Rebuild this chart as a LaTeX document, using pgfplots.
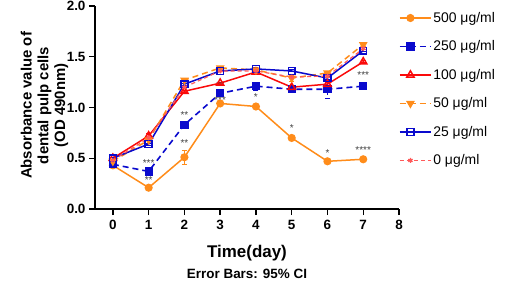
\documentclass[border=0pt]{standalone}
\usepackage{pgfplots}
\pgfplotsset{compat=1.18}
\usepackage{fontspec}
\setmainfont{Liberation Sans}
\definecolor{cor}{RGB}{255,140,26}
\definecolor{cbl}{RGB}{10,10,205}
\definecolor{crd}{RGB}{250,10,10}
\definecolor{cpk}{RGB}{255,90,90}
\begin{document}
\begin{tikzpicture}
\path[use as bounding box] (-95bp,-72bp) rectangle (410bp,209bp);
\begin{axis}[
  at={(0,0)}, anchor=south west,
  scale only axis, width=304bp, height=203bp,
  xmin=-0.5, xmax=8, ymin=0, ymax=2.0,
  axis x line*=bottom, axis y line*=left,
  axis line style={line width=1.6bp, -},
  xtick={0,...,8}, ytick={0,0.5,1,1.5,2},
  yticklabel style={/pgf/number format/fixed,/pgf/number format/fixed zerofill,/pgf/number format/precision=1},
  /pgf/number format/assume math mode=true,
  tick style={line width=1.4bp, black},
  tick align=outside, major tick length=6bp,
  ticklabel style={font=\fontsize{13.5}{15}\selectfont\bfseries},
  xticklabel style={yshift=-2bp},
  xlabel={Time(day)},
  xlabel style={font=\fontsize{17}{19}\selectfont\bfseries, at={(axis description cs:0.5,-0.217)}, anchor=center},
  ylabel={Absorbance value of\\dental pulp cells\\(OD 490nm)},
  ylabel style={font=\fontsize{15}{16.8}\selectfont\bfseries, align=center, at={(axis description cs:-0.166,0.51)}, anchor=center, rotate=0},
  legend style={draw=none, fill=none, at={(axis description cs:0.99,0.99)}, anchor=north west, font=\fontsize{14}{16}\selectfont, row sep=12.9bp, legend cell align=left},
  legend image code/.code={\draw[#1] (0cm,0cm) -- (0.74cm,0cm); \draw[#1, solid] plot coordinates {(0.37cm,0cm)}; \path (0cm,0cm) -- (1.08cm,0cm);},
  clip=false,
  error bars/y dir=both, error bars/y explicit,
  error bars/error bar style={line width=1bp},
  error bars/error mark options={rotate=90, mark size=2.5bp, line width=1bp},
]
% 500
\addplot[color=cor, line width=1.5bp, mark=*, mark size=3.3bp, mark options={solid}]
 coordinates {(0,0.43) +- (0,0.01) (1,0.21) +- (0,0.01) (2,0.51) +- (0,0.07) (3,1.04) +- (0,0.01) (4,1.01) +- (0,0.01) (5,0.70) +- (0,0.01) (6,0.47) +- (0,0.01) (7,0.49) +- (0,0.01)};
\addlegendentry{500 μg/ml}
% 250
\addplot[color=cbl, line width=1.6bp, dash pattern=on 6bp off 4bp, mark=square*, mark size=3.3bp, mark options={solid}]
 coordinates {(0,0.44) +- (0,0.01) (1,0.37) +- (0,0.01) (2,0.83) +- (0,0.03) (3,1.14) +- (0,0.02) (4,1.21) +- (0,0.04) (5,1.18) +- (0,0.01) (6,1.18) +- (0,0.09) (7,1.21) +- (0,0.01)};
\addlegendentry{250 μg/ml}
% 100
\addplot[color=crd, line width=1.5bp, mark=triangle, mark size=4.2bp, mark options={solid, line width=1.5bp}]
 coordinates {(0,0.50) +- (0,0.01) (1,0.72) +- (0,0.02) (2,1.16) +- (0,0.01) (3,1.24) +- (0,0.01) (4,1.35) +- (0,0.01) (5,1.20) +- (0,0.01) (6,1.23) +- (0,0.02) (7,1.45) +- (0,0.01)};
\addlegendentry{100 μg/ml}
% 50
\addplot[color=cor, line width=1.5bp, dash pattern=on 6bp off 4bp, mark=triangle*, mark size=3.6bp, mark options={solid, rotate=180}]
 coordinates {(0,0.47) +- (0,0.01) (1,0.68) +- (0,0.01) (2,1.27) +- (0,0.01) (3,1.39) +- (0,0.01) (4,1.37) +- (0,0.01) (5,1.29) +- (0,0.03) (6,1.34) +- (0,0.01) (7,1.62) +- (0,0.02)};
\addlegendentry{50 μg/ml}
% 25
\addplot[color=cbl, line width=1.5bp, mark=square, mark size=3.4bp, mark options={solid, line width=1.5bp}]
 coordinates {(0,0.50) +- (0,0.01) (1,0.64) +- (0,0.01) (2,1.23) +- (0,0.01) (3,1.36) +- (0,0.01) (4,1.38) +- (0,0.01) (5,1.36) +- (0,0.01) (6,1.29) +- (0,0.01) (7,1.56) +- (0,0.01)};
\addlegendentry{25 μg/ml}
% 0
\addplot[color=cpk, line width=1.2bp, dash pattern=on 4bp off 3bp, mark=asterisk, mark size=2.5bp, mark options={solid}]
 coordinates {(0,0.48) +- (0,0.01) (1,0.70) +- (0,0.01) (2,1.20) +- (0,0.01) (3,1.36) +- (0,0.01) (4,1.36) +- (0,0.01) (5,1.30) +- (0,0.01) (6,1.31) +- (0,0.01) (7,1.58) +- (0,0.01)};
\addlegendentry{0 μg/ml}
% significance stars
\begin{scope}[every node/.style={font=\fontsize{10}{10}\selectfont, text=black!75, inner sep=0pt}]
\node at (axis cs:1,0.455) {***};
\node at (axis cs:1,0.285) {**};
\node at (axis cs:2,0.93) {**};
\node at (axis cs:2,0.645) {**};
\node at (axis cs:3,1.225) {**};
\node at (axis cs:3,1.07) {***};
\node at (axis cs:4,1.10) {*};
\node at (axis cs:5,0.80) {*};
\node at (axis cs:6,0.555) {*};
\node at (axis cs:7,1.315) {***};
\node at (axis cs:7,0.585) {****};
\end{scope}
\node[font=\fontsize{13.5}{15}\selectfont\bfseries, anchor=base, inner sep=0pt] at (axis description cs:0.5,-0.343) {Error Bars: 95\% CI};
\end{axis}
\end{tikzpicture}
\end{document}
